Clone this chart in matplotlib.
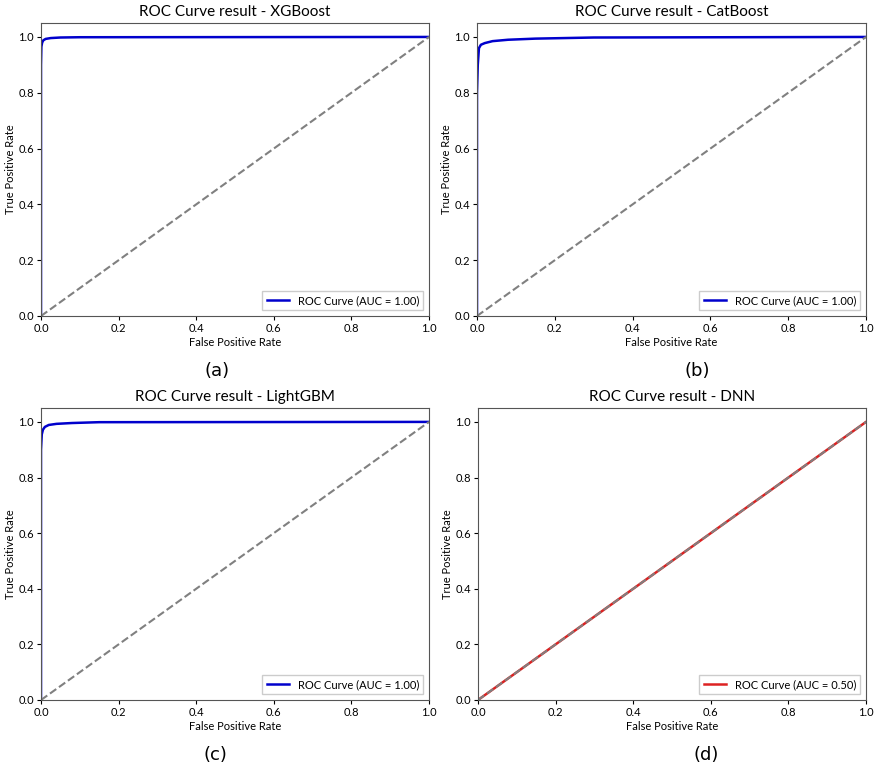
import numpy as np
import matplotlib.pyplot as plt

W, H = 881, 768

# ROC points
xgb_fpr = [0.0, 0.0, 0.001, 0.003, 0.006, 0.012, 0.025, 0.05, 0.1, 1.0]
xgb_tpr = [0.0, 0.90, 0.965, 0.980, 0.988, 0.993, 0.996, 0.998, 0.999, 1.0]
cat_fpr = [0.0, 0.0, 0.002, 0.005, 0.01, 0.02, 0.04, 0.08, 0.15, 0.3, 1.0]
cat_tpr = [0.0, 0.80, 0.90, 0.96, 0.972, 0.978, 0.985, 0.990, 0.994, 0.998, 1.0]
lgb_fpr = [0.0, 0.0, 0.002, 0.005, 0.01, 0.02, 0.04, 0.08, 0.15, 1.0]
lgb_tpr = [0.0, 0.90, 0.955, 0.972, 0.982, 0.989, 0.993, 0.996, 0.999, 1.0]
dnn_fpr = [0.0, 1.0]
dnn_tpr = [0.0, 1.0]

panels = [
    ("XGBoost", xgb_fpr, xgb_tpr, "#0000cc", "1.00", "(a)", (41, 23, 429, 316), 217),
    ("CatBoost", cat_fpr, cat_tpr, "#0000cc", "1.00", "(b)", (477, 23, 866, 316), 697),
    ("LightGBM", lgb_fpr, lgb_tpr, "#0000cc", "1.00", "(c)", (41, 408, 429, 700), 215),
    ("DNN", dnn_fpr, dnn_tpr, "#dd2222", "0.50", "(d)", (478, 408, 866, 700), 706),
]

plt.rcParams["font.family"] = ["Lato", "DejaVu Sans"]
fig = plt.figure(figsize=(W / 100, H / 100), dpi=100)

for name, fpr, tpr, col, auc, tag, (x0, y0, x1, y1), tx in panels:
    ax = fig.add_axes([x0 / W, 1 - y1 / H, (x1 - x0) / W, (y1 - y0) / H])
    ax.plot(fpr, tpr, color=col, lw=1.8, label=f"ROC Curve (AUC = {auc})")
    ax.plot([0, 1], [0, 1], color="gray", lw=1.5, ls="--")
    ax.set_xlim(0, 1)
    ax.set_ylim(0, 1.05)
    ax.set_xlabel("False Positive Rate", fontsize=8, labelpad=2)
    ax.set_ylabel("True Positive Rate", fontsize=8, labelpad=2)
    ax.set_title(f"ROC Curve result - {name}", fontsize=11, pad=5)
    ax.tick_params(labelsize=8, length=3, pad=2)
    for s in ax.spines.values():
        s.set_color("#555555")
    ax.legend(loc="lower right", fontsize=8, framealpha=1, edgecolor="#cccccc",
              fancybox=False, handlelength=2)
    yt = 1 - (y1 + 55) / H
    fig.text(tx / W, yt, tag, fontsize=13, ha="center", va="center",
             family=["Liberation Sans Narrow", "DejaVu Sans"])

fig.savefig("out.png", dpi=100)
